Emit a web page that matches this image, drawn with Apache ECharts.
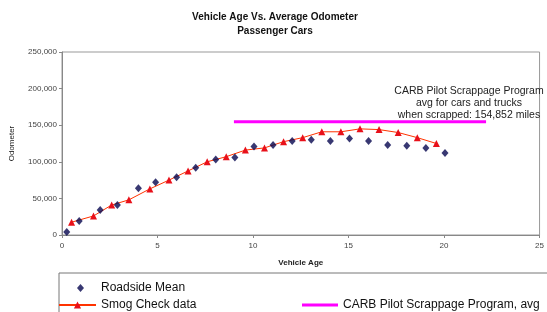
<!DOCTYPE html>
<html>
<head>
<meta charset="utf-8">
<style>
  html, body { margin: 0; padding: 0; background: #fff; }
  #chart { width: 547px; height: 312px; }
</style>
<script src="https://cdn.jsdelivr.net/npm/echarts@6/dist/echarts.min.js"></script>
</head>
<body>
<div id="chart"></div>
<script>
// roadside survey means (age, odometer)
var roadsideAge = [0.25, 0.9, 2.0, 2.9, 4.0, 4.9, 6.0, 7.0, 8.05, 9.05, 10.05, 11.05, 12.05, 13.05, 14.05, 15.05, 16.05, 17.05, 18.05, 19.05, 20.05];
var roadsideMiles = [4000, 19000, 34000, 41000, 64000, 72000, 79000, 92000, 103000, 106000, 121000, 123000, 128500, 130000, 128500, 132000, 128500, 123000, 122000, 119000, 112000];

// smog check program data
var smogAge = [0.5, 1.65, 2.6, 3.5, 4.6, 5.6, 6.6, 7.6, 8.6, 9.6, 10.6, 11.6, 12.6, 13.6, 14.6, 15.6, 16.6, 17.6, 18.6, 19.6];
var smogMiles = [17500, 26000, 41000, 48000, 63000, 75000, 87500, 100000, 107000, 116000, 119000, 127500, 133000, 141000, 141000, 145000, 144000, 140000, 133000, 125000];

// scrappage program average
var carbAge = [9, 22.2];
var carbMiles = 154852;

var xTicks = [0, 25, 5];
var yTicks = [0, 250000, 50000];

var font = 'Liberation Sans, Arial, sans-serif';

function pairs(xs, ys) {
    return xs.map(function (x, i) { return [x, ys[i]]; });
}

var chart = echarts.init(document.getElementById('chart'));
chart.setOption({
    animation: false,
    backgroundColor: '#fff',
    title: {
        text: 'Vehicle Age Vs. Average Odometer\nPassenger Cars',
        left: 270,
        top: 5,
        textAlign: 'center',
        textStyle: { fontFamily: font, fontSize: 10, fontWeight: 'bold', color: '#111', lineHeight: 14 }
    },
    grid: {
        left: 61, right: 2, top: 52, bottom: 77,
        show: true, borderColor: '#999', borderWidth: 1
    },
    legend: [
        {
            data: ['Roadside Mean'],
            left: 72, top: 277,
            itemWidth: 7, itemHeight: 8,
            icon: 'diamond',
            textStyle: { fontFamily: font, fontSize: 12, color: '#111', padding: [0, 0, 0, 12] }
        },
        {
            data: ['Smog Check data'],
            left: 53, top: 294,
            itemWidth: 37, itemHeight: 9,
            textStyle: { fontFamily: font, fontSize: 12, color: '#111' }
        },
        {
            data: ['CARB Pilot Scrappage Program, avg'],
            left: 297, top: 294,
            itemWidth: 36, itemHeight: 3,
            icon: 'rect',
            textStyle: { fontFamily: font, fontSize: 12, color: '#111' }
        }
    ],
    xAxis: {
        type: 'value',
        min: xTicks[0], max: xTicks[1], interval: xTicks[2],
        name: 'Vehicle Age',
        nameLocation: 'middle',
        nameGap: 24,
        nameTextStyle: { fontFamily: font, fontSize: 8, fontWeight: 'bold', color: '#222' },
        axisLine: { lineStyle: { color: '#888' } },
        axisTick: { length: 3, lineStyle: { color: '#888' } },
        axisLabel: { fontFamily: font, fontSize: 8, color: '#444', margin: 7 },
        splitLine: { show: false }
    },
    yAxis: {
        type: 'value',
        min: yTicks[0], max: yTicks[1], interval: yTicks[2],
        name: 'Odometer',
        nameLocation: 'middle',
        nameRotate: 90,
        nameGap: 46,
        nameTextStyle: { fontFamily: font, fontSize: 8, color: '#222' },
        axisLine: { show: true, lineStyle: { color: '#888' } },
        axisTick: { show: true, length: 3, lineStyle: { color: '#888' } },
        axisLabel: {
            fontFamily: font, fontSize: 8, color: '#444', margin: 5,
            formatter: function (v) { return v.toLocaleString('en-US'); }
        },
        splitLine: { show: false }
    },
    series: [
        {
            name: 'CARB Pilot Scrappage Program, avg',
            type: 'line',
            data: carbAge.map(function (x) { return [x, carbMiles]; }),
            symbol: 'none',
            lineStyle: { color: '#ff00ff', width: 3 },
            itemStyle: { color: '#ff00ff' },
            z: 1
        },
        {
            name: 'Smog Check data',
            type: 'line',
            data: pairs(smogAge, smogMiles),
            symbol: 'triangle',
            symbolSize: 7,
            lineStyle: { color: '#ff3300', width: 1 },
            itemStyle: { color: '#e8101a' },
            z: 2
        },
        {
            name: 'Roadside Mean',
            type: 'scatter',
            data: pairs(roadsideAge, roadsideMiles),
            symbol: 'diamond',
            symbolSize: [7, 8],
            itemStyle: { color: '#06064f' },
            z: 3
        }
    ],
    graphic: [
        {
            type: 'text',
            x: 469, y: 85,
            style: {
                text: 'CARB Pilot Scrappage Program\navg for cars and trucks\nwhen scrapped: 154,852 miles',
                align: 'center',
                font: '10.5px ' + font,
                fill: '#222',
                lineHeight: 12
            }
        },
        {
            type: 'rect',
            shape: { x: 59, y: 273, width: 500, height: 50 },
            style: { fill: 'none', stroke: '#777', lineWidth: 1 },
            z: -1
        }
    ]
});
</script>
</body>
</html>
